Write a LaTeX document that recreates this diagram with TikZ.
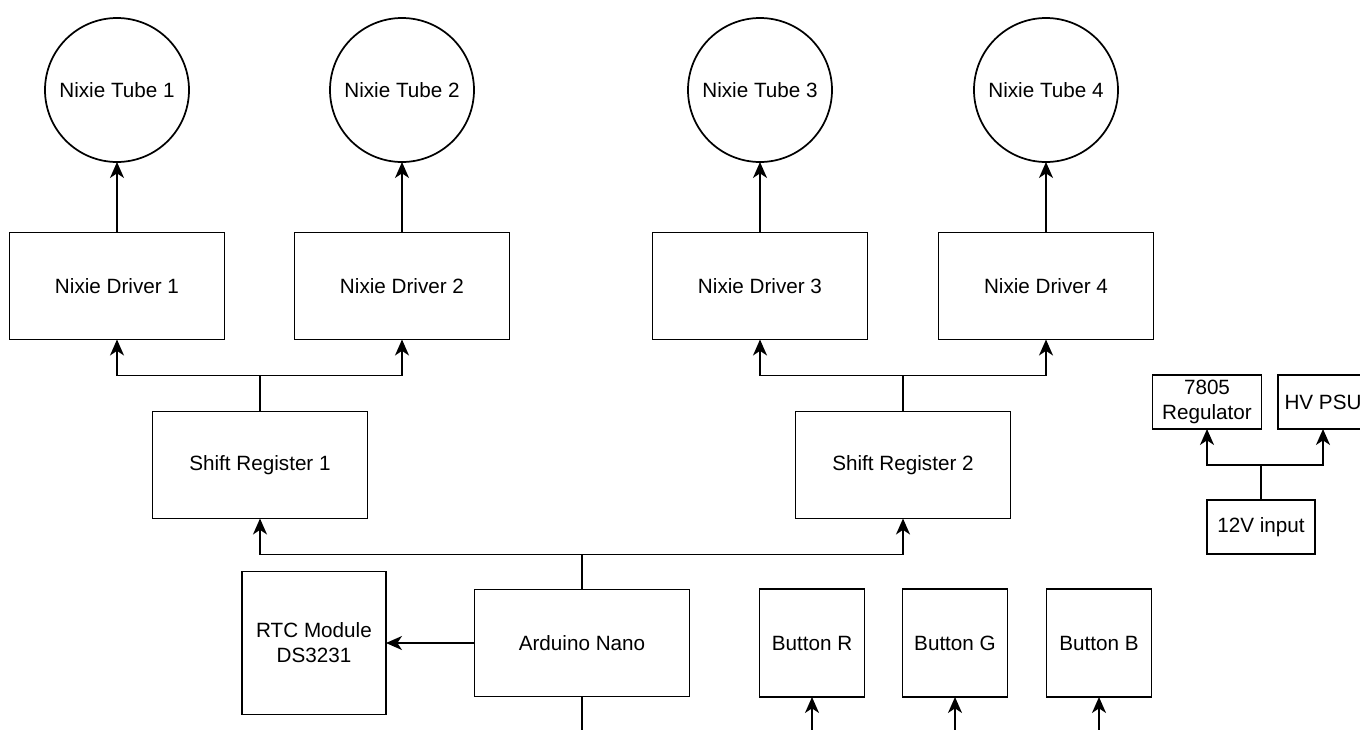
\documentclass[tikz,border=0pt]{standalone}
\usepackage{fontspec}
\setmainfont{Liberation Sans}
\usetikzlibrary{arrows.meta}

\tikzset{every picture/.style={line width=1.3pt}}

\begin{document}
\begin{tikzpicture}[x=0.75pt,y=0.75pt,yscale=-1,xscale=1,
    font=\fontsize{15.5}{18.75}\selectfont,
    blk/.style={draw, rectangle, align=center, inner sep=0.75pt, outer sep=0pt},
    tube/.style={draw, circle, minimum size=108pt, inner sep=0.75pt, outer sep=0pt},
    wide/.style={blk, minimum width=161.25pt, minimum height=80.25pt},
    btn/.style={blk, minimum width=78.75pt, minimum height=81pt},
    small/.style={blk, minimum width=81.75pt, minimum height=40.5pt},
    arr/.style={-{Stealth[length=12pt,width=10.5pt,inset=3.5pt]}}]
\useasboundingbox (0,0) rectangle (1360,729);
\clip (0,0) rectangle (1360,729);

%Shape: Circle
\node [tube] (tube1) at (117,90) {Nixie Tube 1};
\node [tube] (tube2) at (402,90) {Nixie Tube 2};
\node [tube] (tube3) at (760,90) {Nixie Tube 3};
\node [tube] (tube4) at (1046,90) {Nixie Tube 4};

%Shape: Rectangle
\node [wide] (drv1) at (117,286) {Nixie Driver 1};
\node [wide] (drv2) at (402,286) {Nixie Driver 2};
\node [wide] (drv3) at (760,286) {Nixie Driver 3};
\node [wide] (drv4) at (1046,286) {Nixie Driver 4};
\node [wide] (sr1) at (260,465) {Shift Register 1};
\node [wide] (sr2) at (903,465) {Shift Register 2};
\node [wide] (ard) at (582,643) {Arduino Nano};
\node [blk, minimum width=108pt, minimum height=107.25pt] (rtc) at (314,643) {RTC Module\\DS3231};
\node [btn] (btnR) at (812,643) {Button R};
\node [btn] (btnG) at (955,643) {Button G};
\node [btn] (btnB) at (1099,643) {Button B};
\node [small] (reg) at (1207,402) {7805\\Regulator};
\node [small, minimum width=67.5pt] (hv) at (1323,402) {HV PSU};
\node [small, minimum width=81pt] (vin) at (1261,527) {12V input};

%Straight Lines
\foreach \i in {1,...,4}
  \draw [arr] (drv\i.north) -- (tube\i.south);
\draw [arr] (sr1.north) -- ++(0,-36) -| (drv1.south);
\draw [arr] (sr1.north) -- ++(0,-36) -| (drv2.south);
\draw [arr] (sr2.north) -- ++(0,-36) -| (drv3.south);
\draw [arr] (sr2.north) -- ++(0,-36) -| (drv4.south);
\draw [arr] (ard.north) -- ++(0,-35) -| (sr1.south);
\draw [arr] (ard.north) -- ++(0,-35) -| (sr2.south);
\draw [arr] (ard.west) -- (rtc.east);
\draw (ard.south) -- ++(0,40);
\foreach \b in {btnR,btnG,btnB}
  \draw [arr] (\b.south) ++(0,40) -- (\b.south);
\draw [arr] (vin.north) -- ++(0,-35) -| (reg.south);
\draw [arr] (vin.north) -- ++(0,-35) -| (hv.south);

\end{tikzpicture}
\end{document}
